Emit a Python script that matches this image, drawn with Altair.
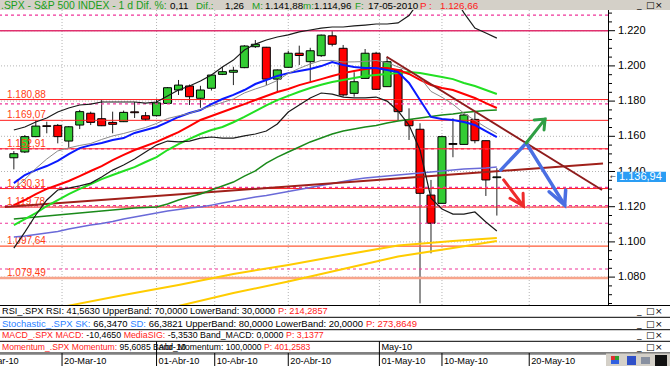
import altair as alt
import pandas as pd

# ---------------- values ----------------
# candle index 0 = 15-Mar-2010 ... 44 = 17-May-2010 (trading days)
OPEN = [1147.8, 1151.1, 1159.8, 1166.0, 1166.2, 1157.3, 1166.4, 1173.1, 1170.0, 1167.9,
        1168.3, 1173.9, 1171.7, 1171.7, 1178.7, 1186.3, 1188.6, 1181.6, 1187.3, 1195.2,
        1196.4, 1199.0, 1210.9, 1210.6, 1192.5, 1199.2, 1207.2, 1202.4, 1205.8, 1217.1,
        1210.0, 1184.4, 1192.9, 1207.2, 1188.2, 1197.7, 1169.3, 1164.0, 1126.6, 1121.9,
        1155.9, 1155.4, 1169.6, 1157.5, 1136.5]
HIGH = [1151.6, 1160.7, 1169.3, 1168.3, 1167.0, 1165.8, 1175.0, 1174.0, 1180.6, 1174.0,
        1174.6, 1179.5, 1173.8, 1181.4, 1188.0, 1192.0, 1189.4, 1188.7, 1195.1, 1199.5,
        1199.5, 1211.8, 1214.7, 1210.8, 1198.0, 1208.6, 1211.5, 1210.3, 1217.8, 1220.4,
        1211.9, 1196.4, 1209.6, 1208.0, 1205.1, 1197.7, 1175.9, 1167.4, 1135.2, 1160.4,
        1170.2, 1172.7, 1173.6, 1157.5, 1141.88]
LOW = [1141.2, 1150.5, 1159.5, 1161.7, 1156.0, 1153.5, 1164.1, 1166.4, 1165.8, 1161.7,
       1168.1, 1170.4, 1168.7, 1171.2, 1178.7, 1183.5, 1177.8, 1176.2, 1186.0, 1194.8,
       1189.1, 1198.7, 1210.2, 1189.1, 1185.3, 1199.0, 1200.5, 1191.0, 1205.1, 1211.1,
       1182.5, 1182.5, 1192.9, 1186.3, 1188.2, 1169.2, 1157.9, 1065.1, 1093.5, 1121.9,
       1148.1, 1155.4, 1156.0, 1126.1, 1114.96]
CLOSE = [1150.1, 1159.8, 1165.8, 1165.6, 1159.8, 1165.4, 1174.0, 1167.9, 1166.0, 1166.8,
         1173.6, 1173.4, 1169.7, 1179.0, 1187.6, 1189.1, 1182.5, 1186.3, 1194.8, 1196.7,
         1197.5, 1211.3, 1212.3, 1192.5, 1197.7, 1207.2, 1205.9, 1208.6, 1217.5, 1212.3,
         1183.5, 1191.0, 1207.2, 1186.7, 1202.4, 1174.0, 1166.0, 1127.6, 1110.6, 1159.8,
         1155.4, 1172.1, 1157.5, 1135.2, 1136.94]

BB_UPPER = [1163.6, 1165.3, 1168.1, 1170.4, 1173.8, 1176.1, 1177.8, 1178.3, 1179.5, 1179.5,
            1179.5, 1179.5, 1178.9, 1179.5, 1182.9, 1186.3, 1188.6, 1191.4, 1194.8, 1199.4,
            1203.3, 1209.0, 1212.4, 1214.7, 1216.4, 1217.6, 1219.3, 1220.4, 1221.5, 1222.1,
            1222.1, 1222.7, 1223.2, 1223.8, 1223.8, 1224.4, 1228.6, 1237.4, 1243.1, 1244.3,
            1240.3, 1230.1, 1221.5, 1218.7, 1215.8]
BB_MID = [1130.1, 1135.5, 1141.7, 1147.1, 1151.7, 1153.4, 1154.8, 1155.9, 1158.2, 1160.2,
          1161.6, 1163.3, 1165.0, 1167.3, 1170.1, 1171.6, 1173.0, 1175.2, 1177.2, 1179.2,
          1181.2, 1184.6, 1186.9, 1188.9, 1191.7, 1195.7, 1198.6, 1201.1, 1203.1, 1203.1,
          1202.2, 1202.3, 1202.5, 1203.1, 1201.9, 1199.4, 1197.3, 1193.5, 1185.5, 1182.2,
          1178.2, 1173.1, 1169.0, 1165.1, 1161.5]
BB_LOWER = [1096.5, 1105.6, 1115.3, 1123.8, 1129.5, 1130.6, 1131.8, 1133.4, 1136.9, 1140.8,
            1143.7, 1147.1, 1151.1, 1155.0, 1157.3, 1156.8, 1157.3, 1159.0, 1159.6, 1159.0,
            1159.0, 1160.2, 1161.3, 1163.0, 1167.0, 1173.8, 1177.8, 1181.8, 1184.6, 1184.0,
            1182.3, 1181.8, 1181.8, 1182.3, 1180.0, 1174.4, 1166.4, 1152.2, 1124.9, 1118.7,
            1115.8, 1115.8, 1117.0, 1111.3, 1106.2]
MA_BLUE = [1133.4, 1138.0, 1140.8, 1143.1, 1146.0, 1149.9, 1153.3, 1155.0, 1156.2, 1157.9,
           1159.0, 1161.9, 1163.6, 1165.3, 1168.1, 1171.0, 1173.2, 1174.9, 1178.3, 1181.2,
           1183.5, 1186.3, 1189.7, 1192.0, 1194.3, 1195.9, 1197.1, 1198.2, 1199.9, 1202.2,
           1200.5, 1199.4, 1198.8, 1198.8, 1197.7, 1196.5, 1190.3, 1180.6, 1171.0, 1169.8,
           1169.3, 1168.1, 1166.4, 1163.0, 1159.6]
MA_RED = [1120.9, 1123.8, 1127.2, 1130.1, 1132.3, 1134.6, 1137.4, 1140.3, 1143.1, 1146.5,
          1149.4, 1152.2, 1154.5, 1156.8, 1159.6, 1162.4, 1165.8, 1169.3, 1171.5, 1173.8,
          1176.1, 1178.3, 1180.6, 1182.9, 1185.2, 1186.9, 1189.1, 1190.8, 1192.5, 1194.3,
          1195.9, 1197.1, 1198.2, 1198.8, 1198.8, 1197.7, 1195.4, 1192.0, 1189.1, 1187.4,
          1186.3, 1184.0, 1181.8, 1178.9, 1176.1]
MA_GREEN = [1109.6, 1113.0, 1116.4, 1120.4, 1123.8, 1127.2, 1130.1, 1132.9, 1135.7, 1138.0,
            1140.3, 1142.5, 1145.4, 1148.2, 1152.2, 1155.6, 1158.5, 1161.3, 1163.6, 1165.3,
            1168.0, 1171.0, 1174.3, 1177.6, 1180.6, 1183.0, 1185.3, 1187.4, 1189.3, 1190.8,
            1192.0, 1193.1, 1194.3, 1194.8, 1195.4, 1195.9, 1196.5, 1195.9, 1194.8, 1193.7,
            1192.5, 1190.3, 1188.6, 1186.3, 1184.0]
MA_DKGREEN = [1113.0, 1113.6, 1114.1, 1114.7, 1115.3, 1115.8, 1116.4, 1117.0, 1117.5, 1118.1,
              1118.7, 1119.2, 1119.5, 1119.8, 1121.5, 1123.8, 1125.5, 1127.2, 1129.5, 1131.8,
              1134.0, 1137.4, 1140.3, 1144.8, 1148.2, 1151.1, 1153.9, 1156.8, 1159.0, 1161.3,
              1163.0, 1164.1, 1165.3, 1166.1, 1167.6, 1168.7, 1169.5, 1170.4, 1171.2, 1172.1,
              1172.7, 1173.5, 1174.1, 1174.6, 1174.9]
MA_SLATE = [1102.8, 1103.3, 1104.2, 1105.0, 1105.9, 1107.3, 1108.5, 1109.6, 1110.4, 1111.6,
            1113.0, 1114.1, 1115.3, 1116.4, 1117.5, 1118.4, 1119.3, 1119.8, 1120.9, 1122.1,
            1123.2, 1124.4, 1125.5, 1126.4, 1127.5, 1128.6, 1129.8, 1130.9, 1132.0, 1133.2,
            1134.3, 1135.4, 1136.3, 1136.9, 1137.4, 1138.0, 1138.6, 1139.1, 1139.7, 1140.3,
            1140.8, 1141.4, 1141.7, 1142.0, 1142.5]
YEL1_IDX = [0, 5, 10, 15, 20, 25, 30, 35, 40, 44]
YEL1 = [1057.9, 1063.8, 1069.8, 1075.5, 1081.8, 1086.9, 1092.5, 1097.9, 1100.5, 1102.2]
YEL2_IDX = [10, 15, 20, 25, 30, 35, 40, 44]
YEL2 = [1056.7, 1063.6, 1071.0, 1077.5, 1084.6, 1091.7, 1096.5, 1100.5]

LEVELS = [1180.88, 1169.07, 1152.91, 1130.31, 1119.78, 1097.64, 1079.49]
LEVEL_TEXT = ["1.180,88", "1.169,07", "1.152,91", "1.130,31", "1.119,78", "1.097,64", "1.079,49"]
LEVEL_COLOR = ["#ff1e1e", "#ff1e1e", "#ff1e1e", "#ff1e1e", "#ff1e1e", "#ff5a36", "#f7a58c"]
DASH_LEVELS = [1228.9, 1178.4, 1152.8, 1131.0, 1120.6, 1110.6, 1084.6]
PINK_LEVELS = [1220.0]
GRID_PRICES = [1080, 1100, 1120, 1140, 1160, 1180, 1200, 1220]
AXIS_TICKS = list(range(1065, 1231, 5))
AXIS_LABELS = [1080, 1100, 1120, 1140, 1160, 1180, 1200, 1220]

TREND_UP_IDX = [-0.81, 53.67]
TREND_UP = [1119.8, 1144.5]
TREND_DN_IDX = [33.96, 53.58]
TREND_DN = [1205.2, 1129.5]

BLUE_ARR_IDX = [44.35, 46.68, 50.18]
BLUE_ARR = [1140.8, 1156.2, 1120.9]
BLUE_HEAD_IDX = [48.76, 50.18, 50.27]
BLUE_HEAD = [1128.5, 1120.9, 1129.5]
GREEN_ARR_IDX = [46.68, 48.39]
GREEN_ARR = [1156.2, 1169.8]
GREEN_HEAD_IDX = [47.4, 48.39, 48.3]
GREEN_HEAD = [1169.3, 1169.8, 1163.6]
RED_ARR_IDX = [44.62, 46.42]
RED_ARR = [1135.2, 1120.4]
RED_HEAD_IDX = [45.2, 46.42, 46.39]
RED_HEAD = [1124.8, 1120.4, 1127.6]

DATE_POS = [-3.6, 4.39, 13.0, 18.3, 25.0, 33.3, 39.0, 46.95]
DATE_TXT = ["10-Mar-10", "20-Mar-10", "01-Abr-10", "10-Abr-10", "20-Abr-10",
            "01-May-10", "10-May-10", "20-May-10"]
MONTH_POS = [13.0, 33.3]
MONTH_TXT = ["Abr-10", "May-10"]

GREEN_T, BLACK_T, RED_T, BLUE_T = "#1a9e1a", "#000000", "#ff1a1a", "#2a7fff"
TITLE_SEGS = [(1, ".SPX - S&P 500 INDEX - 1 d Dif. %:", GREEN_T, 10.4), (170, "0,11", BLACK_T, 9.8),
              (196, "Dif.:", GREEN_T, 9.8), (225, "1,26", BLACK_T, 9.8), (252, "M:", GREEN_T, 9.8),
              (265, "1.141,88", BLACK_T, 9.8), (303, "m:", GREEN_T, 9.8), (314, "1.114,96", BLACK_T, 9.8),
              (355, "F:", GREEN_T, 9.8), (368, "17-05-2010", BLACK_T, 9.8), (420, "P :", RED_T, 9.8),
              (440, "1.126,66", RED_T, 9.8)]
ROWS = [
    ([("RSI_.SPX RSI: 41,5630 UpperBand: 70,0000 LowerBand: 30,0000 ", BLACK_T),
      ("P: 214,2857", RED_T)], 278),
    ([("Stochastic_.SPX SK: ", BLUE_T), ("66,3470 ", BLACK_T), ("SD: ", BLUE_T),
      ("66,3821 UpperBand: 80,0000 LowerBand: 20,0000 ", BLACK_T), ("P: 273,8649", RED_T)], 366),
    ([("MACD_.SPX MACD: ", RED_T), ("-10,4650 ", BLACK_T), ("MediaSIG: ", RED_T),
      ("-5,3530 Band_MACD: 0,0000 ", BLACK_T), ("P: 3,1377", RED_T)], 286),
    ([("Momentum_.SPX Momentum: ", RED_T), ("95,6085 Band_Momentum: 100,0000 ", BLACK_T),
      ("P: 401,2583", RED_T)], 264),
]

# ---------------- layout ----------------
W, H = 608, 295
TOP = 10
FONT = "Liberation Sans"
xs = alt.Scale(domain=[-0.806, 53.67], nice=False, zero=False)
ys = alt.Scale(domain=[1064.15, 1231.76], nice=False, zero=False)
ONE = pd.DataFrame({"a": [0]})


def X(f="i"):
    return alt.X(f"{f}:Q", scale=xs, axis=None)


def Y(f="p"):
    return alt.Y(f"{f}:Q", scale=ys, axis=None, title=None)


def rel(y_abs):
    return y_abs - TOP


AW = {' ': 278, '%': 889, '&': 667, ',': 278, '-': 333, '.': 278, ':': 278, '_': 556,
      'A': 667, 'B': 667, 'C': 722, 'D': 722, 'E': 667, 'G': 778, 'I': 278, 'K': 667,
      'L': 556, 'M': 833, 'N': 722, 'P': 667, 'R': 722, 'S': 667, 'U': 722, 'X': 667,
      'a': 556, 'c': 500, 'd': 556, 'e': 556, 'h': 556, 'i': 222, 'm': 833, 'n': 556,
      'o': 556, 'p': 556, 'r': 333, 's': 500, 't': 278, 'u': 556, 'w': 722}


def em(s):
    return sum(AW.get(ch, 556) for ch in s) / 1000.0


def fmt_price(v):
    return f"{v:,.0f}".replace(",", ".")


def line(idx, vals, color, width, dash=None, cap="butt"):
    df = pd.DataFrame({"i": idx, "p": vals, "k": list(range(len(idx)))})
    kw = dict(color=color, strokeWidth=width, clip=True, strokeCap=cap)
    if dash:
        kw["strokeDash"] = dash
    return alt.Chart(df).mark_line(**kw).encode(x=X(), y=Y(), order="k:Q")


def box(x0, x1, y0, y1, color):
    return alt.Chart(ONE).mark_rect(color=color).encode(
        x=alt.value(x0), x2=alt.value(x1), y=alt.value(rel(y0)), y2=alt.value(rel(y1)))


layers = []

# gridlines
layers.append(alt.Chart(pd.DataFrame({"p": GRID_PRICES})).mark_rule(
    color="#b4b4b4", strokeDash=[1, 2], strokeWidth=1).encode(y=Y()))
layers.append(alt.Chart(pd.DataFrame({"t": DATE_POS[1:]})).mark_rule(
    color="#b4b4b4", strokeDash=[1, 2], strokeWidth=1).encode(x=X("t")))

# price axis on the right (drawn with the price scale)
tdf = pd.DataFrame({"p": AXIS_TICKS})
tdf["major"] = [v % 20 == 0 for v in AXIS_TICKS]
layers.append(alt.Chart(ONE).mark_rule(color="#000", strokeWidth=1).encode(
    x=alt.value(W + 0.5), y=alt.value(0), y2=alt.value(H)))
layers.append(alt.Chart(tdf[~tdf["major"]]).mark_rule(color="#000", strokeWidth=1).encode(
    x=alt.value(W), x2=alt.value(W + 4), y=Y()))
layers.append(alt.Chart(tdf[tdf["major"]]).mark_rule(color="#000", strokeWidth=1).encode(
    x=alt.value(W), x2=alt.value(W + 7), y=Y()))
adf = pd.DataFrame({"p": AXIS_LABELS, "t": [fmt_price(v) for v in AXIS_LABELS]})
layers.append(alt.Chart(adf).mark_text(align="left", baseline="middle", font=FONT, fontSize=11,
                                       color="#000").encode(x=alt.value(W + 10), y=Y(), text="t:N"))

# candles
cdf = pd.DataFrame({"i": list(range(len(OPEN))), "o": OPEN, "h": HIGH, "l": LOW, "c": CLOSE})
cdf["col"] = ["#33cc33" if c >= o else "#ff0000" for o, c in zip(OPEN, CLOSE)]
layers.append(alt.Chart(cdf).mark_rule(color="#222222", strokeWidth=1).encode(
    x=X(), y=Y("l"), y2="h:Q"))
layers.append(alt.Chart(cdf).mark_bar(size=8, stroke="#000000", strokeWidth=1).encode(
    x=X(), y=Y("o"), y2="c:Q", color=alt.Color("col:N", scale=None)))

# horizontal levels
layers.append(alt.Chart(pd.DataFrame({"p": DASH_LEVELS})).mark_rule(
    color="#f0359a", strokeDash=[3, 3], strokeWidth=1.2).encode(y=Y()))
layers.append(alt.Chart(pd.DataFrame({"p": PINK_LEVELS})).mark_rule(
    color="#e0306e", strokeWidth=1.5).encode(y=Y()))
ldf = pd.DataFrame({"p": LEVELS, "t": LEVEL_TEXT, "col": LEVEL_COLOR})
ldf["w"] = [1, 1, 1, 1, 1, 1.2, 2.5]
layers.append(alt.Chart(ldf).mark_rule().encode(
    y=Y(), color=alt.Color("col:N", scale=None), strokeWidth=alt.StrokeWidth("w:Q", scale=None)))
layers.append(alt.Chart(ldf).mark_text(align="left", baseline="alphabetic", dy=-2,
                                        font=FONT, fontSize=10, color="#ff3d14").encode(
    x=alt.value(7), y=Y(), text="t:N"))

# indicator lines
layers.append(line(YEL1_IDX, YEL1, "#ffcc00", 2))
layers.append(line(YEL2_IDX, YEL2, "#ffcc00", 2))
layers.append(line(list(range(45)), MA_SLATE, "#6a6ad8", 1.5))
layers.append(line(TREND_UP_IDX, TREND_UP, "#a0201a", 2))
layers.append(line(list(range(45)), MA_DKGREEN, "#1a8a1a", 1.5))
layers.append(line(list(range(45)), MA_GREEN, "#22e022", 2))
layers.append(line(list(range(45)), MA_RED, "#ff0000", 2))
layers.append(line(list(range(45)), MA_BLUE, "#0a1aff", 2))
layers.append(line(list(range(45)), BB_MID, "#8a8a8a", 1))
layers.append(line(list(range(45)), BB_UPPER, "#1a1a1a", 1.2))
layers.append(line(list(range(45)), BB_LOWER, "#1a1a1a", 1.2))
layers.append(line(TREND_DN_IDX, TREND_DN, "#8e1c1c", 2))

# projection arrows
layers.append(line(BLUE_ARR_IDX, BLUE_ARR, "#4a6fe3", 3.5, cap="round"))
layers.append(line(BLUE_HEAD_IDX, BLUE_HEAD, "#4a6fe3", 3.5, cap="round"))
layers.append(line(GREEN_ARR_IDX, GREEN_ARR, "#2f9e44", 3, cap="round"))
layers.append(line(GREEN_HEAD_IDX, GREEN_HEAD, "#2f9e44", 3, cap="round"))
layers.append(line(RED_ARR_IDX, RED_ARR, "#ee2b2b", 3, cap="round"))
layers.append(line(RED_HEAD_IDX, RED_HEAD, "#ee2b2b", 3, cap="round"))

# last price box
last = CLOSE[-1]
last_txt = f"{last:,.2f}".replace(",", "#").replace(".", ",").replace("#", ".")
bdf = pd.DataFrame({"c": [last]})
layers.append(alt.Chart(bdf).transform_calculate(top="datum.c + 2.9", bot="datum.c - 2.9").mark_rect(
    color="#2a9df4").encode(x=alt.value(617), x2=alt.value(666), y=Y("top"), y2="bot:Q"))
layers.append(alt.Chart(bdf).mark_text(text=last_txt, align="left", baseline="middle", font=FONT,
                                       fontSize=11, color="white").encode(x=alt.value(619), y=Y("c")))
layers.append(alt.Chart(bdf).mark_text(text="←", align="left", baseline="middle", font="DejaVu Sans",
                                       fontSize=7, color="#333").encode(x=alt.value(610), y=Y("c")))

# title bar
layers.append(box(0, 670, 0, 10, "#d4d0c8"))
for x0, t, colr, fs in TITLE_SEGS:
    layers.append(alt.Chart(ONE).mark_text(text=t, align="left", baseline="alphabetic", font=FONT,
                                           fontSize=fs, color=colr).encode(
        x=alt.value(x0), y=alt.value(rel(9))))


def win_buttons(y_abs):
    out = []
    for x0, g in [(637, "_"), (646, "□"), (655, "×")]:
        out.append(alt.Chart(ONE).mark_text(text=g, align="left", baseline="middle",
                                            font="DejaVu Sans", fontSize=9, color="#000").encode(
            x=alt.value(x0), y=alt.value(rel(y_abs))))
    return out


layers += win_buttons(4.5)

# indicator header rows
ROW_LINES = [305.5, 317.3, 329.7, 341.3, 353.0]
ROW_MID = [311.3, 323.7, 335.3, 346.7]
for yl in ROW_LINES:
    layers.append(alt.Chart(ONE).mark_rule(color="#000", strokeWidth=1).encode(
        x=alt.value(0), x2=alt.value(670), y=alt.value(rel(yl))))
for (segs, target), ym in zip(ROWS, ROW_MID):
    before = sum(em(s) for s, _ in segs[:-1])
    fs = (target - 2) / before
    xcur = 2.0
    for s, colr in segs:
        layers.append(alt.Chart(ONE).mark_text(text=s.rstrip(), align="left", baseline="middle",
                                               font=FONT, fontSize=fs, color=colr).encode(
            x=alt.value(xcur), y=alt.value(rel(ym))))
        xcur += em(s) * fs
    layers += win_buttons(ym)

# month marks in the last row and the date axis
mdf = pd.DataFrame({"t": MONTH_POS, "s": MONTH_TXT})
layers.append(alt.Chart(mdf).mark_rule(color="#000").encode(
    x=X("t"), y=alt.value(rel(341.3)), y2=alt.value(rel(353))))
layers.append(alt.Chart(mdf).mark_text(align="left", baseline="middle", dx=2, font=FONT,
                                       fontSize=9.2, color="#000").encode(
    x=X("t"), y=alt.value(rel(346.7)), text="s:N"))
layers.append(alt.Chart(ONE).mark_rule(color="#a0a0a0", strokeWidth=1).encode(
    x=alt.value(0), x2=alt.value(606), y=alt.value(rel(354.5))))
ddf = pd.DataFrame({"t": DATE_POS, "s": DATE_TXT})
layers.append(alt.Chart(ddf).mark_rule(color="#000").encode(
    x=X("t"), y=alt.value(rel(353)), y2=alt.value(rel(366))))
layers.append(alt.Chart(ddf).mark_text(align="left", baseline="middle", dx=2, font=FONT,
                                       fontSize=9.2, color="#000").encode(
    x=X("t"), y=alt.value(rel(361.3)), text="s:N"))

# bottom-right buttons
layers.append(box(606, 670, 353.5, 366, "#d4d0c8"))
layers.append(box(611, 615, 356, 360, "#e03030"))
layers.append(box(615, 619, 356, 360, "#30a030"))
layers.append(box(611, 619, 360, 364, "#3060e0"))
layers.append(box(627, 636, 356, 365, "#3050c8"))
layers.append(box(641, 650, 357, 364, "#8890a0"))
layers.append(box(655, 667, 355, 366, "#111111"))

chart = alt.layer(*layers).properties(
    width=W, height=H,
    padding={"left": 0, "top": TOP, "right": 670 - W, "bottom": 366 - TOP - H},
    autosize=alt.AutoSizeParams(type="none"),
    background="white",
).configure_view(strokeWidth=0)

chart.save("out.html", embed_options={"renderer": "svg", "actions": False})
